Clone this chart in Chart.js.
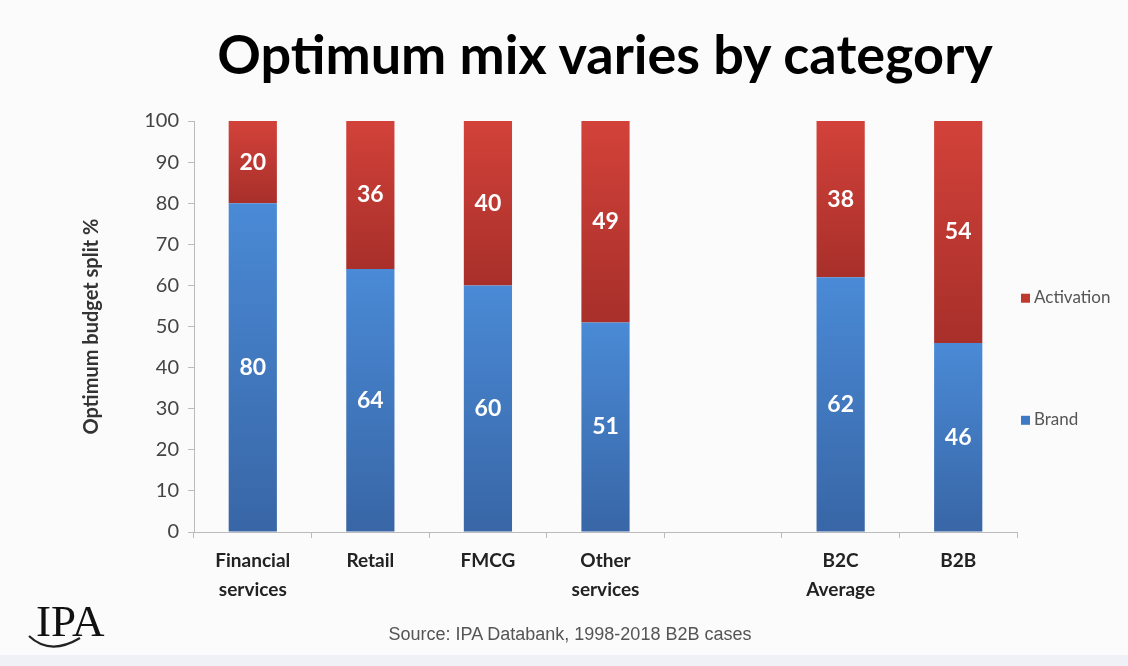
<!DOCTYPE html>
<html>
<head>
<meta charset="utf-8">
<script src="https://cdn.jsdelivr.net/npm/chart.js@4/dist/chart.umd.min.js"></script>
<style>
  html, body { margin: 0; padding: 0; background: #fbfbfb; }
  #wrap { position: relative; width: 1128px; height: 666px; overflow: hidden; }
  #title { position: absolute; left: 0; width: 1210px; top: 27px; text-align: center;
    font: bold 54px Lato, "Open Sans", sans-serif; line-height: 1; color: #000; }
  #source { position: absolute; left: 0; width: 1140px; top: 624px; text-align: center;
    font: 18px "Liberation Sans", Arial, sans-serif; color: #555; }
  #logo { position: absolute; left: 36px; top: 599px; font: 45px "Liberation Serif", serif;
    line-height: 1; color: #111; }
  #strip { position: absolute; left: 0; right: 0; bottom: 0; height: 11px; background: #f0f1f6; }
</style>
</head>
<body>
<div id="wrap">
  <canvas id="mixChart" width="1128" height="666"></canvas>
  <div id="title">Optimum mix varies by category</div>
  <div id="source">Source: IPA Databank, 1998-2018 B2B cases</div>
  <div id="logo">IPA</div>
  <div id="strip"></div>
</div>
<script>
const categories = [['Financial', 'services'], 'Retail', 'FMCG', ['Other', 'services'], '', ['B2C', 'Average'], 'B2B'];
const brandValues = [80, 64, 60, 51, null, 62, 46];
const activationValues = [20, 36, 40, 49, null, 38, 54];
const yTicks = [0, 10, 20, 30, 40, 50, 60, 70, 80, 90, 100];

// each segment gets its own light-to-dark vertical gradient, like the Excel original
function segmentGradient(light, dark, isTop) {
    return ctx => {
        const chart = ctx.chart;
        const y = chart.scales && chart.scales.y;
        if (!chart.chartArea || !y || ctx.type !== 'data') return dark;
        const i = ctx.dataIndex;
        const b = brandValues[i] || 0;
        const top = y.getPixelForValue(isTop ? 100 : b);
        const bottom = y.getPixelForValue(isTop ? b : 0);
        const g = chart.ctx.createLinearGradient(0, top, 0, bottom);
        g.addColorStop(0, light);
        g.addColorStop(1, dark);
        return g;
    };
}

const valueLabels = {
    id: 'valueLabels',
    afterDatasetsDraw(chart) {
        const c = chart.ctx;
        c.save();
        c.fillStyle = '#ffffff';
        c.font = 'bold 23px Lato, "Open Sans", sans-serif';
        c.textAlign = 'center';
        c.textBaseline = 'middle';
        chart.data.datasets.forEach((ds, di) => {
            chart.getDatasetMeta(di).data.forEach((bar, i) => {
                if (ds.data[i] == null) return;
                const p = bar.getProps(['x', 'y', 'base'], true);
                c.fillText(String(ds.data[i]), p.x, (p.y + p.base) / 2);
            });
        });
        c.restore();
    }
};

const sideLegend = {
    id: 'sideLegend',
    afterDraw(chart) {
        const c = chart.ctx;
        const a = chart.chartArea;
        const items = [
            { text: 'Activation', color: '#c0392f', y: a.top + a.height * 0.43 },
            { text: 'Brand', color: '#3f78c4', y: a.top + a.height * 0.727 }
        ];
        c.save();
        c.font = '17px Lato, "Open Sans", sans-serif';
        c.textBaseline = 'middle';
        items.forEach(it => {
            c.fillStyle = it.color;
            c.fillRect(a.right + 4, it.y - 4, 9, 9);
            c.fillStyle = '#555';
            c.fillText(it.text, a.right + 17, it.y);
        });
        c.restore();
    }
};

const logoSwoosh = {
    id: 'logoSwoosh',
    afterDraw(chart) {
        const c = chart.ctx;
        c.save();
        c.strokeStyle = '#222';
        c.lineWidth = 2.2;
        c.beginPath();
        c.moveTo(29, 636);
        c.quadraticCurveTo(50, 656, 80, 638);
        c.stroke();
        c.restore();
    }
};

new Chart(document.getElementById('mixChart'), {
    type: 'bar',
    data: {
        labels: categories,
        datasets: [
            {
                label: 'Brand',
                data: brandValues,
                backgroundColor: segmentGradient('#4a8ad6', '#3866a6', false),
                barPercentage: 0.41,
                categoryPercentage: 1
            },
            {
                label: 'Activation',
                data: activationValues,
                backgroundColor: segmentGradient('#d2423a', '#a82f2a', true),
                barPercentage: 0.41,
                categoryPercentage: 1
            }
        ]
    },
    options: {
        responsive: false,
        animation: false,
        layout: { padding: { left: 0, right: 111, top: 121, bottom: 54 } },
        plugins: {
            legend: { display: false },
            tooltip: { enabled: false }
        },
        scales: {
            x: {
                stacked: true,
                afterFit: axis => { axis.height = 80; },
                grid: { display: true, offset: true, drawOnChartArea: false, tickLength: 6, color: '#bbb' },
                border: { color: '#bbb' },
                ticks: {
                    color: '#222',
                    font: { family: 'Lato, "Open Sans", sans-serif', size: 19, weight: 'bold', lineHeight: 1.5 },
                    maxRotation: 0,
                    autoSkip: false,
                    padding: 9
                }
            },
            y: {
                stacked: true,
                min: 0,
                max: 100,
                afterFit: axis => { axis.width = 194; },
                afterBuildTicks: axis => { axis.ticks = yTicks.map(v => ({ value: v })); },
                grid: { display: true, drawOnChartArea: false, tickLength: 6, color: '#bbb' },
                border: { color: '#bbb' },
                ticks: {
                    color: '#444',
                    font: { family: 'Lato, "Open Sans", sans-serif', size: 20 },
                    padding: 9
                },
                title: {
                    display: true,
                    text: 'Optimum budget split %',
                    color: '#333',
                    font: { family: 'Lato, "Open Sans", sans-serif', size: 20, weight: 'bold' },
                    padding: { top: 80, bottom: 0 }
                }
            }
        }
    },
    plugins: [valueLabels, sideLegend, logoSwoosh]
});
</script>
</body>
</html>
